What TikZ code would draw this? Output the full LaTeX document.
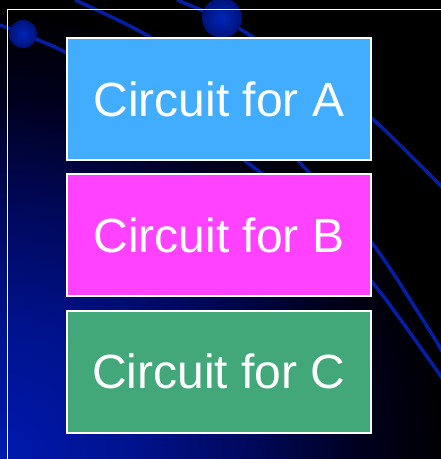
\documentclass[tikz,border=0pt]{standalone}
\usepackage{fontspec}
\setmainfont{Liberation Sans}
\definecolor{boxA}{RGB}{66,173,255}
\definecolor{boxB}{RGB}{255,66,255}
\definecolor{boxC}{RGB}{66,168,122}
\definecolor{bgb0}{RGB}{0,25,175}
\definecolor{bgb1}{RGB}{0,18,140}
\definecolor{bgb2}{RGB}{0,8,90}
\definecolor{bgb3}{RGB}{0,0,30}
\definecolor{deco}{RGB}{5,30,165}
\definecolor{ballin}{RGB}{0,38,185}
\definecolor{ballout}{RGB}{0,18,120}
\pgfdeclareradialshading{bgshade}{\pgfpointorigin}{color(0bp)=(bgb0); color(7.5bp)=(bgb1); color(14bp)=(bgb2); color(20bp)=(bgb3); color(25bp)=(black); color(50bp)=(black)}
\tikzset{
  panel/.style={draw=white, line width=2pt, minimum width=304pt, minimum height=122pt, inner sep=0pt, text=white, font=\fontsize{48}{56}\selectfont},
  decoline/.style={draw=deco, line width=3.5pt},
  ball/.style={inner color=ballin, outer color=ballout}
}
\begin{document}
\begin{tikzpicture}[x=1pt,y=-1pt]
\useasboundingbox (0,0) rectangle (441,459);
\fill[black] (0,0) rectangle (441,459);
\begin{scope}
\clip (0,0) rectangle (441,459);
\shade[shading=bgshade] (-450,9) rectangle (450,909);
% decorative lines
\draw[decoline] plot[smooth] coordinates {(0,25) (23,34) (67,53) (160,105) (252,166) (320,225) (372,282) (403,323) (445,382)};
\draw[decoline] plot[smooth] coordinates {(75,0) (150,37) (240,100) (303,166) (372,243) (423,320) (445,356)};
\draw[decoline] plot[smooth] coordinates {(177,0) (222,19) (253,37) (320,80) (370,117) (400,145) (445,190)};
\shade[ball] (23,34) circle (14);
\shade[ball] (222,18) circle (20);
% frame
\draw[white, line width=1.8pt] (7.5,460) -- (7.5,9.5) -- (442,9.5);
\end{scope}
\node[panel, fill=boxA] (a) at (219,99) {Circuit for A};
\node[panel, fill=boxB] (b) at (219,235) {Circuit for B};
\node[panel, fill=boxC] (c) at (219,371.5) {Circuit for C};
\end{tikzpicture}
\end{document}
